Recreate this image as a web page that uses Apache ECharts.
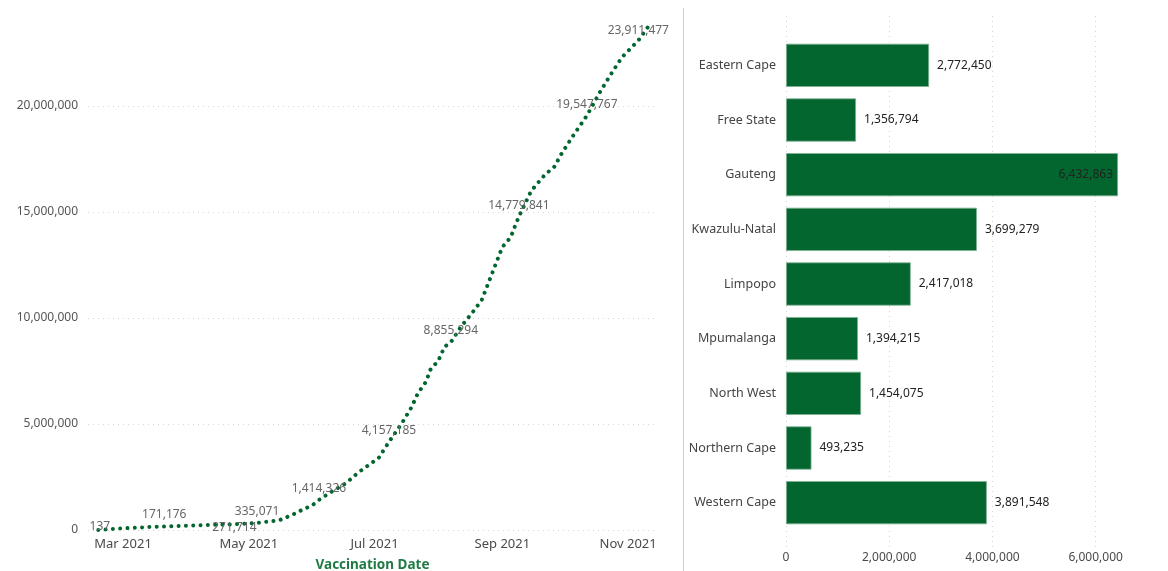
<!DOCTYPE html>
<html>
<head>
<meta charset="utf-8">
<script src="https://cdn.jsdelivr.net/npm/echarts@6/dist/echarts.min.js"></script>
<style>
  html, body { margin: 0; padding: 0; background: #ffffff; }
  #chart { width: 1168px; height: 571px; }
</style>
</head>
<body>
<div id="chart"></div>
<script>
// ---- Left chart: cumulative vaccinations by date ----
const lineDates = [
  '2021-02-17','2021-02-24','2021-03-03','2021-03-10','2021-03-14','2021-03-21','2021-03-28',
  '2021-04-04','2021-04-13','2021-04-24','2021-05-05','2021-05-10','2021-05-16','2021-05-22',
  '2021-05-25','2021-06-01','2021-06-04','2021-06-09','2021-06-17','2021-06-23','2021-07-03',
  '2021-07-08','2021-07-14','2021-07-19','2021-07-22','2021-07-26','2021-07-28','2021-08-01',
  '2021-08-04','2021-08-07','2021-08-12','2021-08-17','2021-08-22','2021-08-27','2021-09-01',
  '2021-09-05','2021-09-07','2021-09-09','2021-09-15','2021-09-22','2021-09-26','2021-09-30',
  '2021-10-06','2021-10-12','2021-10-18','2021-10-23','2021-10-29','2021-11-03','2021-11-06',
  '2021-11-12'
];
const lineValues = [
  137, 50000, 90000, 120000, 145000, 171176, 190000,
  210000, 240000, 271714, 335071, 390000, 470000, 710000,
  860000, 1180000, 1414326, 1740000, 2200000, 2700000, 3400000,
  4157185, 5000000, 5800000, 6450000, 7000000, 7550000, 8000000,
  8650000, 8855294, 9600000, 10200000, 10850000, 12100000, 13350000,
  13800000, 14300000, 14779841, 16000000, 16800000, 17100000, 17800000,
  18700000, 19547767, 20600000, 21400000, 22300000, 22800000, 23100000,
  23911477
];
// dates whose value is printed on the chart
const labelledDates = ['2021-02-17','2021-03-21','2021-04-24','2021-05-05','2021-06-04',
  '2021-07-08','2021-08-07','2021-09-09','2021-10-12','2021-11-12'];
const labelBelowDates = ['2021-04-24'];
const xTickDates = ['2021-03-01','2021-05-01','2021-07-01','2021-09-01','2021-11-01'];
const xTickLabels = ['Mar 2021','May 2021','Jul 2021','Sep 2021','Nov 2021'];
const yTicks = [0, 5000000, 10000000, 15000000, 20000000];

// ---- Right chart: vaccinations by province ----
const provinces = ['Eastern Cape','Free State','Gauteng','Kwazulu-Natal','Limpopo',
  'Mpumalanga','North West','Northern Cape','Western Cape'];
const provinceValues = [2772450, 1356794, 6432863, 3699279, 2417018,
  1394215, 1454075, 493235, 3891548];
const barTicks = [0, 2000000, 4000000, 6000000];

const FONT = 'Noto Sans';
const GREEN = '#03662f';
const GRID_C = '#d6d6d6';
const DAY = 86400000;
const fmt = v => Math.round(v).toLocaleString('en-US');
const toTs = s => { const p = s.split('-').map(Number); return new Date(p[0], p[1]-1, p[2]).getTime(); };
const barMax = Math.max(...provinceValues);

const lineData = lineDates.map((d, i) => {
  const item = { value: [toTs(d), lineValues[i]] };
  if (labelledDates.includes(d)) {
    const below = labelBelowDates.includes(d);
    const last = i === lineDates.length - 1;
    if (last) {
      item.label = { show: true, position: [-12, 8], align: 'center', verticalAlign: 'middle' };
    } else if (i === 0) {
      item.label = { show: true, position: [2, -3], align: 'center', verticalAlign: 'middle' };
    } else {
      item.label = { show: true, position: below ? 'bottom' : 'top', distance: below ? -3 : 5 };
    }
  }
  return item;
});

const tickTs = xTickDates.map(toTs);
const tickLabelFor = v => {
  for (let k = 0; k < tickTs.length; k++) {
    if (Math.abs(tickTs[k] - v) < DAY / 2) return xTickLabels[k];
  }
  return '';
};

const chart = echarts.init(document.getElementById('chart'), null, { renderer: 'canvas' });
chart.setOption({
  animation: false,
  backgroundColor: '#ffffff',
  textStyle: { fontFamily: FONT },
  graphic: [{
    type: 'line',
    shape: { x1: 683.5, y1: 8, x2: 683.5, y2: 571 },
    style: { stroke: '#cfcfcf', lineWidth: 1 }
  }],
  grid: [
    { left: 88, right: 511, top: 0, bottom: 41, outerBoundsMode: 'none', containLabel: false },
    { left: 786, right: 50, top: 38, bottom: 41, outerBoundsMode: 'none', containLabel: false },
    { left: 786, right: 50, top: 16, bottom: 24, outerBoundsMode: 'none', containLabel: false }
  ],
  xAxis: [
    {
      gridIndex: 0, type: 'time',
      min: toTs('2021-02-12'), max: toTs('2021-11-15'),
      minInterval: 28 * DAY, maxInterval: 31 * DAY,
      axisLine: { show: false }, axisTick: { show: false },
      splitLine: { show: false },
      axisLabel: {
        formatter: v => tickLabelFor(v),
        color: '#4a4a4a', fontSize: 13, margin: 8, hideOverlap: false
      },
      name: 'Vaccination Date', nameLocation: 'middle', nameGap: 28,
      nameTextStyle: { color: '#1f7a45', fontWeight: 'bold', fontSize: 13.5 }
    },
    {
      gridIndex: 1, type: 'value',
      min: 0, max: barMax, interval: 2000000,
      axisLine: { show: false }, axisTick: { show: false },
      axisLabel: { color: '#4a4a4a', fontSize: 12, margin: 22, showMaxLabel: false,
        formatter: v => fmt(v) },
      splitLine: { show: false }
    },
    {
      gridIndex: 2, type: 'value',
      min: 0, max: barMax, interval: 2000000,
      axisLine: { show: false }, axisTick: { show: false }, axisLabel: { show: false },
      splitLine: { show: true, lineStyle: { color: [GRID_C, GRID_C, GRID_C, GRID_C, 'rgba(0,0,0,0)'], type: [1, 4], width: 1 } }
    }
  ],
  yAxis: [
    {
      gridIndex: 0, type: 'value',
      min: 0, max: 25000000, interval: 5000000,
      axisLine: { show: false }, axisTick: { show: false },
      axisLabel: { color: '#555555', fontSize: 12, margin: 10, showMaxLabel: false,
        formatter: v => fmt(v) },
      splitLine: { show: true, lineStyle: { color: [GRID_C, GRID_C, GRID_C, GRID_C, GRID_C, 'rgba(0,0,0,0)'], type: [1, 4], width: 1 } }
    },
    {
      gridIndex: 1, type: 'category', inverse: true,
      data: provinces,
      axisLine: { show: false }, axisTick: { show: false },
      axisLabel: { color: '#444444', fontSize: 12.5, margin: 10 },
      splitLine: { show: false }
    },
    {
      gridIndex: 2, type: 'value', show: false
    }
  ],
  series: [
    {
      type: 'line', xAxisIndex: 0, yAxisIndex: 0,
      data: lineData,
      symbol: 'circle', symbolSize: 1, showSymbol: true, showAllSymbol: true,
      itemStyle: { color: 'rgba(0,0,0,0)', borderWidth: 0 },
      smooth: false,
      lineStyle: { color: GREEN, width: 4, type: [0.01, 7.3], cap: 'round' },
      label: { color: '#666666', fontSize: 12, formatter: p => fmt(p.value[1]) },
      labelLayout: { hideOverlap: false },
      z: 3
    },
    {
      type: 'bar', xAxisIndex: 1, yAxisIndex: 1,
      data: provinceValues.map(v => ({
        value: v,
        label: v === barMax
          ? { position: 'insideRight', distance: 5 }
          : { position: 'right', distance: 8 }
      })),
      barCategoryGap: '21%',
      itemStyle: { color: GREEN, borderColor: '#7fb293', borderWidth: 0.8 },
      label: { show: true, color: '#222222', fontSize: 12, formatter: p => fmt(p.value) },
      z: 3
    }
  ]
});
</script>
</body>
</html>
